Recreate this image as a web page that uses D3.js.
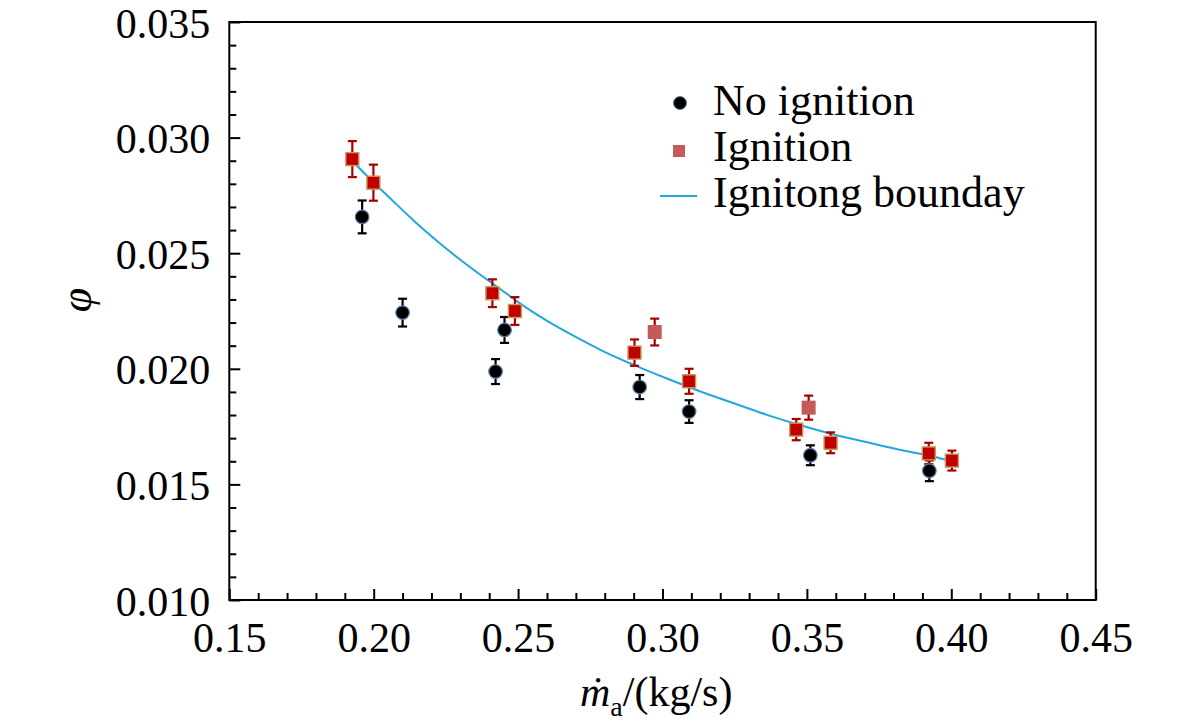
<!DOCTYPE html>
<html><head><meta charset="utf-8">
<script src="https://cdn.jsdelivr.net/npm/d3@7"></script>
<style>
body{margin:0;background:#fff;}
svg{display:block;}
svg text{font-family:"Liberation Serif","Times New Roman",serif !important;}
</style></head>
<body>
<svg id="c" width="1181" height="721"></svg>
<script>
// ---- data ----
const xMajor = [0.15,0.20,0.25,0.30,0.35,0.40,0.45];
const yMajor = [0.010,0.015,0.020,0.025,0.030,0.035];

const noIgnX   = [0.1960,0.2100,0.2422,0.2453,0.2921,0.3092,0.3512,0.3924];
const noIgnY   = [0.02657,0.02243,0.01988,0.02168,0.01921,0.01815,0.01626,0.01559];
const noIgnErr = [0.00071,0.00060,0.00054,0.00056,0.00052,0.00049,0.00043,0.00045];

const ignX   = [0.1926,0.1999,0.2411,0.2489,0.2903,0.3092,0.3463,0.3582,0.3922,0.4002];
const ignY   = [0.02907,0.02805,0.02327,0.02250,0.02070,0.01946,0.01737,0.01680,0.01634,0.01603];
const ignErr = [0.00078,0.00078,0.00060,0.00060,0.00057,0.00054,0.00046,0.00045,0.00046,0.00043];

const ign2X   = [0.2973,0.3506];
const ign2Y   = [0.02159,0.01832];
const ign2Err = [0.00058,0.00052];

const boundX = [0.1926,0.2016,0.2080,0.2137,0.2195,0.2253,0.2310,0.2368,0.2426,0.2495,0.2599,0.2714,0.2783,0.2898,0.3013,0.3129,0.3244,0.3359,0.3475,0.3590,0.3705,0.3820,0.3935,0.4002];
const boundY = [0.02899,0.02786,0.02710,0.02643,0.02579,0.02518,0.02462,0.02408,0.02356,0.02293,0.02208,0.02128,0.02083,0.02018,0.01959,0.01903,0.01852,0.01802,0.01757,0.01717,0.01683,0.01650,0.01621,0.01601];

const legendLabels = ["No ignition","Ignition","Ignitong bounday"];

// ---- scales ----
const svg = d3.select("#c");
const L=229.3,R=1095.7,T=22,B=600;
const x = d3.scaleLinear().domain([0.15,0.45]).range([L,R]);
const y = d3.scaleLinear().domain([0.010,0.035]).range([B,T]);

const fs = 42;
const FF = "Liberation Serif";
const xMinor = d3.range(0,31).map(i=>+(0.15+i*0.01).toFixed(3)).filter(v=>!xMajor.some(m=>Math.abs(m-v)<1e-6));
const yMinor = d3.range(0,26).map(i=>+(0.010+i*0.001).toFixed(4)).filter(v=>!yMajor.some(m=>Math.abs(m-v)<1e-7));

const gx = svg.append("g").attr("transform",`translate(0,${B})`);
gx.call(d3.axisBottom(x).tickValues(xMinor).tickSize(-7).tickFormat(""));
gx.select(".domain").remove();
const gx2 = svg.append("g").attr("transform",`translate(0,${B})`);
gx2.call(d3.axisBottom(x).tickValues(xMajor).tickSize(-11).tickPadding(22).tickFormat(d3.format(".2f")));
gx2.select(".domain").remove();

const gy = svg.append("g").attr("transform",`translate(${L},0)`);
gy.call(d3.axisLeft(y).tickValues(yMinor).tickSize(-7).tickFormat(""));
gy.select(".domain").remove();
const gy2 = svg.append("g").attr("transform",`translate(${L},0)`);
gy2.call(d3.axisLeft(y).tickValues(yMajor).tickSize(-11).tickPadding(19).tickFormat(d3.format(".3f")));
gy2.select(".domain").remove();

svg.selectAll("g").attr("font-family",FF);
svg.selectAll(".tick line").attr("stroke","#000").attr("stroke-width",2);
svg.selectAll(".tick text").attr("font-size",fs).style("font-family",FF).attr("fill","#000");
gy2.selectAll(".tick text").attr("dy","0.36em");

// frame
svg.append("rect").attr("x",L).attr("y",T).attr("width",R-L).attr("height",B-T)
  .attr("fill","none").attr("stroke","#000").attr("stroke-width",2);

// boundary curve
const bpts = boundX.map((v,i)=>[v,boundY[i]]);
svg.append("path").datum(bpts)
  .attr("d",d3.line().x(d=>x(d[0])).y(d=>y(d[1])).curve(d3.curveMonotoneX))
  .attr("fill","none").attr("stroke","#21a7de").attr("stroke-width",2);

// error bars
function errBars(xs,ys,es,color){
  const g = svg.append("g").attr("stroke",color).attr("stroke-width",2.2);
  xs.forEach((v,i)=>{
    const cx=x(v), y1=y(ys[i]-es[i]), y2=y(ys[i]+es[i]);
    g.append("line").attr("x1",cx).attr("x2",cx).attr("y1",y1).attr("y2",y2);
    g.append("line").attr("x1",cx-4.5).attr("x2",cx+4.5).attr("y1",y1).attr("y2",y1);
    g.append("line").attr("x1",cx-4.5).attr("x2",cx+4.5).attr("y1",y2).attr("y2",y2);
  });
}
errBars(noIgnX,noIgnY,noIgnErr,"#000");
errBars(ignX,ignY,ignErr,"#a80000");
errBars(ign2X,ign2Y,ign2Err,"#a80000");

// markers
svg.append("g").selectAll("circle").data(noIgnX).join("circle")
  .attr("cx",d=>x(d)).attr("cy",(d,i)=>y(noIgnY[i])).attr("r",6.8)
  .attr("fill","#000").attr("stroke","#5b7fa8").attr("stroke-width",1.2);
svg.append("g").selectAll("rect").data(ignX).join("rect")
  .attr("x",d=>x(d)-6.5).attr("y",(d,i)=>y(ignY[i])-6.5).attr("width",13).attr("height",13)
  .attr("fill","#c00000").attr("stroke","#c89a5a").attr("stroke-width",1.4);
svg.append("g").selectAll("rect").data(ign2X).join("rect")
  .attr("x",d=>x(d)-7).attr("y",(d,i)=>y(ign2Y[i])-7).attr("width",14).attr("height",14)
  .attr("fill","#c55a5a");

// legend
const lg = svg.append("g");
lg.append("circle").attr("cx",680).attr("cy",103).attr("r",6.5).attr("fill","#000").attr("stroke","#5b7fa8").attr("stroke-width",1);
lg.append("rect").attr("x",673).attr("y",145).attr("width",12).attr("height",12).attr("fill","#c55a5a");
lg.append("line").attr("x1",660).attr("x2",697).attr("y1",196).attr("y2",196).attr("stroke","#21a7de").attr("stroke-width",2);
const lgY=[115,161,207];
legendLabels.forEach((t,i)=>{
  lg.append("text").attr("x",713).attr("y",lgY[i]).attr("font-size",44).attr("fill","#000").text(t);
});

// axis titles
const xt = svg.append("text").attr("x",580).attr("y",706).attr("font-size",fs).attr("fill","#000");
xt.append("tspan").attr("font-style","italic").text("ṁ");
xt.append("tspan").attr("font-size",28).attr("dy",10).text("a");
xt.append("tspan").attr("dy",-10).text("/(kg/s)");

svg.append("text").attr("transform","translate(76,300) rotate(-90)")
  .attr("text-anchor","middle").attr("dominant-baseline","central")
  .attr("font-size",44).attr("font-style","italic").attr("fill","#000").text("φ");
</script>
</body></html>
